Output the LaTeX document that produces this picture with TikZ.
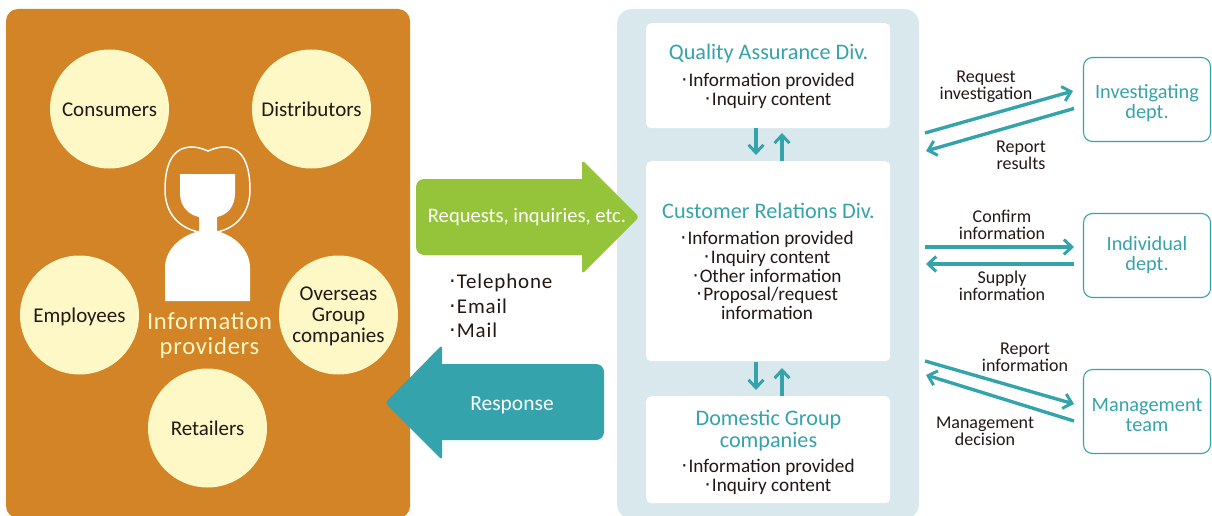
\documentclass[tikz,border=0pt]{standalone}
\usepackage{fontspec}
\setmainfont{Carlito}
\newfontfamily\dotfont{DejaVu Sans}
\usetikzlibrary{arrows.meta, positioning}
\definecolor{ochre}{HTML}{D28426}
\definecolor{cream}{HTML}{FDF8C6}
\definecolor{leaf}{HTML}{95C43A}
\definecolor{teal}{HTML}{35A3AC}
\definecolor{mist}{HTML}{D9E8EC}
\definecolor{ink}{HTML}{231815}
\newcommand{\bul}{{\dotfont ·}\hspace{.06em}}
\newcommand{\sz}[2]{\fontsize{#1}{#2}\selectfont}
\newcommand{\dn}{\rule{0pt}{21pt}}

\begin{document}
\begin{tikzpicture}[x=1pt, y=-1pt]
\tikzstyle{provider} = [circle, minimum size = 119pt, inner sep = 0pt, fill = cream, text = ink, align = center, font = \sz{21}{21}]
\tikzstyle{oneline} = [text height = 17pt, text depth = 2pt]
\tikzstyle{card} = [rectangle, rounded corners = 5pt, fill = white, minimum width = 244pt, anchor = north west, inner sep = 0pt]
\tikzstyle{title} = [text = teal, align = center, font = \sz{22.2}{22}]
\tikzstyle{items} = [text = ink, align = center, font = \sz{19.2}{18.8}]
\tikzstyle{dept} = [rectangle, rounded corners = 9pt, draw = teal, line width = 1.1pt, minimum width = 127pt, minimum height = 84pt, text = teal, align = center, font = \sz{20.3}{20}]
\tikzstyle{note} = [text = ink, align = center, font = \sz{18}{17.3}]
\tikzstyle{connect} = [-{Straight Barb[length = 8pt, width = 15pt, line width = 3pt]}, line width = 3.4pt, draw = teal]
\tikzstyle{big} = [text = white, font = \sz{20.6}{21}]
\useasboundingbox (0,0) rectangle (1212,516);
% panels
\fill[ochre, rounded corners = 12pt] (6,9) rectangle (410,518);
\fill[mist, rounded corners = 15pt] (617,9) rectangle (919,519);
% providers
\node[provider, oneline] (consumers) at (109.5,109) {Consumers};
\node[provider, oneline] (distributors) at (311.5,109) {Distributors};
\node[provider, oneline] (employees) at (79.5,315) {Employees};
\node[provider] (overseas) at (338.5,315) {\rule{0pt}{17pt}Overseas\\Group\\companies};
\node[provider, oneline] (retailers) at (207.5,428) {Retailers};
% person
\draw[white, line width = 1.5pt] (199,232) .. controls (178,228) and (165,212) .. (165,190) .. controls (165,165) and (172,147) .. (192,147) .. controls (198,147) and (203,149) .. (208,151) .. controls (213,149) and (218,147) .. (224,147) .. controls (243,147) and (250,165) .. (250,190) .. controls (250,212) and (237,228) .. (217,232);
\fill[white] (180,174) -- (235,174) -- (235,193) .. controls (235,207) and (227,215) .. (217,217) -- (217,231) .. controls (238,237) and (250,252) .. (250,268) -- (250,301) -- (165,301) -- (165,268) .. controls (165,252) and (177,237) .. (199,231) -- (199,217) .. controls (189,215) and (180,207) .. (180,193) -- cycle;
\node[text = cream, align = center, font = {\sz{24.6}{25}\addfontfeature{LetterSpace=3}}] (who) at (209.5,335) {Information\\providers};
% big arrows
\fill[leaf] (582,179) [rounded corners = 3pt] -- (582,160) -- (639,217) -- (582,274) [sharp corners] -- (582,255) [rounded corners = 8pt] -- (416,255) -- (416,179) [sharp corners] -- cycle;
\node[big] (requests) at (527,217.5) {Requests, inquiries, etc.};
\fill[teal] (442,364) [rounded corners = 3pt] -- (442,345) -- (385,403) -- (442,460) [sharp corners] -- (442,440) [rounded corners = 8pt] -- (604,440) -- (604,364) [sharp corners] -- cycle;
\node[big, font = \sz{21.5}{21}] (response) at (512,405.5) {Response};
\node[text = ink, align = left, anchor = west, font = {\sz{21}{24.5}\addfontfeature{LetterSpace=4}}] (media) at (445.5,306) {\bul Telephone\\\bul Email\\\bul Mail};
% centre cards
\node[card, minimum height = 105pt] (qa) at (646,23) {};
\node[card, minimum height = 200pt] (cr) at (646,161) {};
\node[card, minimum height = 107pt] (dg) at (646,396) {};
\node[title] (qatitle) at (768.5,54) {Quality Assurance Div.};
\node[items] (qaitems) at (768,90.5) {\bul Information provided\\\bul Inquiry content};
\node[title] (crtitle) at (768.5,211) {Customer Relations Div.};
\node[items] (critems) at (767,275.5) {\bul Information provided\\\bul Inquiry content\\\bul Other information\\\bul Proposal/request\\information};
\node[title] (dgtitle) at (768.5,431) {Domestic Group\\companies};
\node[items] (dgitems) at (768,476.5) {\bul Information provided\\\bul Inquiry content};
% departments
\node[dept] (inv) at (1147,99.5) {\dn Investigating\\dept.};
\node[dept] (ind) at (1147,255.5) {Individual\\dept.};
\node[dept] (man) at (1147,411.5) {\dn Management\\team};
% connector ends
\coordinate (a1) at (925,133); \coordinate (a2) at (1073,91);
\coordinate (b1) at (1074,108.5); \coordinate (b2) at (926,151);
\coordinate (c1) at (925,247); \coordinate (c2) at (1074,247);
\coordinate (d1) at (1074,264); \coordinate (d2) at (926,264);
\coordinate (e1) at (925,361); \coordinate (e2) at (1074,404);
\coordinate (f1) at (1074,421); \coordinate (f2) at (926,375);
\coordinate (g1) at (756,128); \coordinate (g2) at (756,155);
\coordinate (h1) at (782,161); \coordinate (h2) at (782,133);
\coordinate (k1) at (756,362); \coordinate (k2) at (756,390);
\coordinate (l1) at (782,396); \coordinate (l2) at (782,368);
\path (a1) edge [connect] (a2) (b1) edge [connect] (b2) (c1) edge [connect] (c2) (d1) edge [connect] (d2) (e1) edge [connect] (e2) (f1) edge [connect] (f2);
\path (g1) edge [connect] (g2) (h1) edge [connect] (h2) (k1) edge [connect] (k2) (l1) edge [connect] (l2);
% connector labels
\node[note] (n1) at (986,86.5) {Request\\investigation};
\node[note] (n2) at (1021,155.5) {Report\\results};
\node[note] (n3) at (1002,224.5) {Confirm\\information};
\node[note] (n4) at (1002,286) {Supply\\information};
\node[note] (n5) at (1025,357) {Report\\information};
\node[note] (n6) at (985,431) {Management\\decision};
\end{tikzpicture}
\end{document}
